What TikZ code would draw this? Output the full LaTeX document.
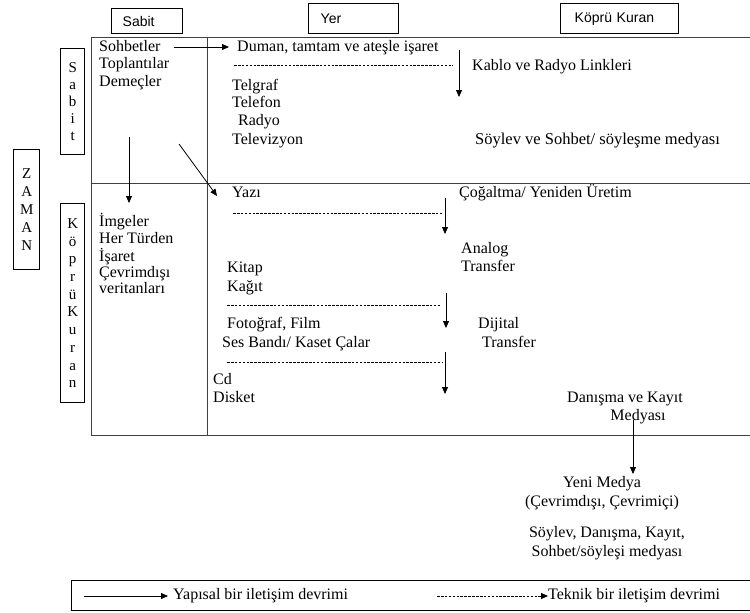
\documentclass[tikz,border=0pt]{standalone}
\usepackage{fontspec}
\setmainfont{Liberation Serif}
\newfontfamily\hdrfont{Liberation Sans}
\usetikzlibrary{arrows.meta}
\begin{document}
\begin{tikzpicture}[x=1pt,y=-1pt,
  txt/.style={inner sep=0pt, anchor=west, font=\fontsize{16}{17}\selectfont, text height=11pt, text depth=3pt},
  ctxt/.style={txt, anchor=center},
  gridln/.style={draw=black!75, line width=0.9pt},
  hbox/.style={draw, line width=1.4pt, anchor=north west, inner ysep=0pt, align=left, font=\hdrfont\fontsize{14}{16}\selectfont},
  vbox/.style={draw, line width=1.4pt, anchor=north west, inner sep=0pt, align=center},
  arr/.style={-{Triangle[length=7pt,width=6pt]}, line width=0.8pt},
  dashln/.style={dash pattern=on 2.6pt off 1.3pt, line width=0.9pt}
]
\useasboundingbox[fill=white] (0,0) rectangle (750,613);

% grid
\draw[gridln] (91,37) -- (750,37);
\draw[gridln] (91,183) -- (750,183);
\draw[gridln] (91,435) -- (750,435);
\draw[gridln] (91,37) -- (91,435);
\draw[gridln] (207,37) -- (207,435);

% headers
\node[hbox, minimum height=25pt, inner xsep=11pt, text width=49pt] (hSabit) at (111,8) {Sabit};
\node[hbox, minimum height=30pt, inner xsep=12pt, text width=66pt] (hYer) at (308,3) {Yer};
\node[hbox, minimum height=30pt, inner xsep=14pt, text width=90pt] (hKopru) at (560,3) {Köprü Kuran};

% vertical boxes
\node[vbox, minimum width=24pt, minimum height=106pt, font=\fontsize{15}{17}\selectfont] (vSabit) at (60,48) {S\\a\\b\\i\\t};
\node[vbox, minimum width=26pt, minimum height=120pt, font=\fontsize{15}{18}\selectfont] (vZaman) at (13,149) {Z\\A\\M\\A\\N};
\node[vbox, minimum width=24pt, minimum height=199pt, font=\fontsize{15}{17.7}\selectfont] (vKopru) at (60,203) {K\\ö\\p\\r\\ü\\K\\u\\r\\a\\n};

% Sabit column
\node[txt] (sohbet) at (99,47) {Sohbetler};
\node[txt] (toplanti) at (99,64) {Toplantılar};
\node[txt] (demec) at (99,82) {Demeçler};
\node[txt] (imgeler) at (99,222) {İmgeler};
\node[txt] (herturden) at (99,239) {Her Türden};
\node[txt] (isaret) at (99,257) {İşaret};
\node[txt] (cevrim) at (99,273) {Çevrimdışı};
\node[txt] (verit) at (99,289) {veritanları};

% Yer column
\node[txt] (duman) at (237,47) {Duman, tamtam ve ateşle işaret};
\node[txt] (telgraf) at (232,86) {Telgraf};
\node[txt] (telefon) at (232,103) {Telefon};
\node[txt] (radyo) at (238,121) {Radyo};
\node[txt] (televizyon) at (232,140) {Televizyon};
\node[txt] (yazi) at (232,193) {Yazı};
\node[txt] (kitap) at (227,268) {Kitap};
\node[txt] (kagit) at (227,287) {Kağıt};
\node[txt] (foto) at (227,324) {Fotoğraf, Film};
\node[txt] (ses) at (222,343) {Ses Bandı/ Kaset Çalar};
\node[txt] (cd) at (213,380) {Cd};
\node[txt] (disket) at (213,398) {Disket};

% Kopru Kuran column
\node[txt] (kablo) at (472,66) {Kablo ve Radyo Linkleri};
\node[txt, font=\fontsize{16.5}{17}\selectfont] (soylev1) at (475,140) {Söylev ve Sohbet/ söyleşme medyası};
\node[txt] (cogaltma) at (459,193) {Çoğaltma/ Yeniden Üretim};
\node[txt] (analog) at (461,249) {Analog};
\node[txt] (transfer1) at (461,267) {Transfer};
\node[txt] (dijital) at (478,324) {Dijital};
\node[txt] (transfer2) at (482,343) {Transfer};
\node[ctxt] (danisma) at (625,398) {Danışma ve Kayıt};
\node[ctxt] (medyasi) at (638,416) {Medyası};
\node[ctxt] (yeni) at (602,483) {Yeni Medya};
\node[ctxt] (cevrimdisi) at (602,502) {(Çevrimdışı, Çevrimiçi)};
\node[ctxt] (soylev2) at (607,533) {Söylev, Danışma, Kayıt,};
\node[ctxt] (sohbet2) at (607,552) {Sohbet/söyleşi medyası};

% connectors
\draw[arr] ([xshift=13pt]sohbet.east) -- ([xshift=-8pt]duman.west);
\coordinate (dg1) at (179,144);
\coordinate (dg2) at (217,196);
\draw[arr] (dg1) -- (dg2);
\coordinate (sv1) at (129,137);
\coordinate (sv2) at (129,203);
\draw[arr] (sv1) -- (sv2);

\coordinate (d1a) at (234,65); \coordinate (d1b) at (453,65);
\draw[dashln] (d1a) -- (d1b);
\coordinate (v1a) at (459,50); \coordinate (v1b) at (459,97);
\draw[arr] (v1a) -- (v1b);

\coordinate (d2a) at (233,213); \coordinate (d2b) at (443,213);
\draw[dashln] (d2a) -- (d2b);
\coordinate (v2a) at (445,198); \coordinate (v2b) at (445,234);
\draw[arr] (v2a) -- (v2b);

\coordinate (d3a) at (227,305); \coordinate (d3b) at (440,305);
\draw[dashln] (d3a) -- (d3b);
\coordinate (v3a) at (446,293); \coordinate (v3b) at (446,328);
\draw[arr] (v3a) -- (v3b);

\coordinate (d4a) at (227,362); \coordinate (d4b) at (442,362);
\draw[dashln] (d4a) -- (d4b);
\coordinate (v4a) at (445,352); \coordinate (v4b) at (445,394);
\draw[arr] (v4a) -- (v4b);

\coordinate (v5a) at (633,420); \coordinate (v5b) at (633,474);
\draw[arr] (v5a) -- (v5b);

% legend
\node[draw, line width=1.4pt, anchor=north west, minimum width=680pt, minimum height=30pt, inner sep=0pt] (legend) at (71,580) {};
\coordinate (l1a) at (84,596); \coordinate (l1b) at (168,596);
\draw[arr] (l1a) -- (l1b);
\node[txt] (yapisal) at (173,595) {Yapısal bir iletişim devrimi};
\coordinate (l2a) at (437,596); \coordinate (l2b) at (548,596);
\draw[arr, dash pattern=on 2.6pt off 1.3pt] (l2a) -- (l2b);
\node[txt] (teknik) at (548,595) {Teknik bir iletişim devrimi};
\end{tikzpicture}
\end{document}
